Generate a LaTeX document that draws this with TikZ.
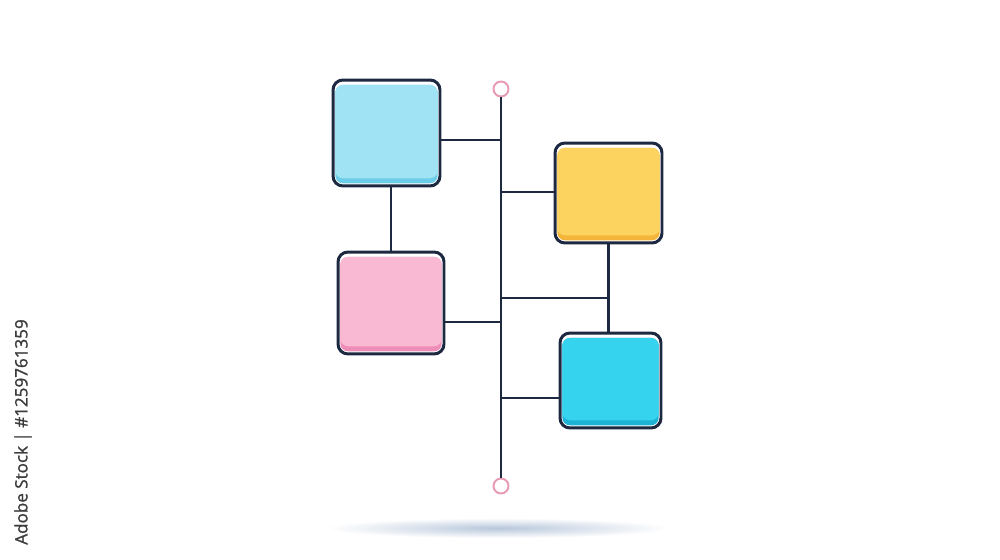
\documentclass[tikz,border=0pt]{standalone}
\usepackage{fontspec}
\newfontfamily\wmfont{Open Sans}[FakeBold=1.2]
\definecolor{navy}{HTML}{1D2841}
\definecolor{pinkring}{HTML}{E79AB2}
\definecolor{blueA}{HTML}{9FE3F4}
\definecolor{blueAd}{HTML}{6CCDE8}
\definecolor{yelB}{HTML}{FDD35F}
\definecolor{yelBd}{HTML}{F4B63A}
\definecolor{pinkC}{HTML}{F9B9D3}
\definecolor{pinkCd}{HTML}{EE8DB7}
\definecolor{cyanD}{HTML}{36D3EE}
\definecolor{cyanDd}{HTML}{1CB3D6}
\definecolor{shadowc}{HTML}{B8C7DB}
\definecolor{wmgray}{HTML}{3C3C3C}
\tikzset{
  tile/.style 2 args={draw=navy, line width=1.7pt, rounded corners=5.6pt, fill=white,
    inner sep=0pt, outer sep=0pt,
    path picture={
      \fill[#2, rounded corners=4.4pt]
        ([xshift=1.3pt,yshift=1.5pt]path picture bounding box.south west) rectangle
        ([xshift=-1.3pt,yshift=-2.8pt]path picture bounding box.north east);
      \fill[#1, rounded corners=4.4pt]
        ([xshift=1.3pt,yshift=4.4pt]path picture bounding box.south west) rectangle
        ([xshift=-1.3pt,yshift=-2.8pt]path picture bounding box.north east);
    }},
  link/.style={draw=navy, line width=1.3pt},
  ring/.style={circle, draw=pinkring, line width=1.1pt, fill=white, minimum size=0.3cm, inner sep=0pt}
}
\begin{document}
\begin{tikzpicture}[x=0.02cm, y=-0.02cm]
\useasboundingbox (0,0) rectangle (1000,560);
\fill[white] (0,0) rectangle (1000,560);
% soft shadow
\shade[inner color=shadowc, outer color=white] (498,528) ellipse (172 and 10);
% tiles
\node[tile={blueA}{blueAd}, minimum width=2.14cm, minimum height=2.12cm] (A) at (386.5,133) {};
\node[tile={yelB}{yelBd}, minimum width=2.14cm, minimum height=2.0cm] (B) at (608.5,193) {};
\node[tile={pinkC}{pinkCd}, minimum width=2.12cm, minimum height=2.04cm] (C) at (391,303) {};
\node[tile={cyanD}{cyanDd}, minimum width=2.02cm, minimum height=1.9cm] (D) at (610.5,380.5) {};
% spine
\node[ring] (top) at (501,89) {};
\node[ring] (bot) at (501,486) {};
\draw[link] (top) -- (bot);
\coordinate (s1) at (501,140);
\coordinate (s2) at (501,192);
\coordinate (s3) at (501,298);
\coordinate (s4) at (501,322);
\coordinate (s5) at (501,398);
\draw[link] (s1) -- (s1 -| A.east);
\draw[link] (s2) -- (s2 -| B.west);
\draw[link] (s3) -- (s3 -| B.south);
\draw[link] (s4) -- (s4 -| C.east);
\draw[link] (s5) -- (s5 -| D.west);
\draw[link] (C.north) -- (C.north |- A.south);
\draw[link] (B.south) -- (B.south |- D.north);
% stock id
\node[rotate=90, text=wmgray, font=\wmfont\fontsize{9.7pt}{11pt}\selectfont, inner sep=0pt] (wm) at (23,432) {Adobe Stock | \#1259761359};
\end{tikzpicture}
\end{document}
